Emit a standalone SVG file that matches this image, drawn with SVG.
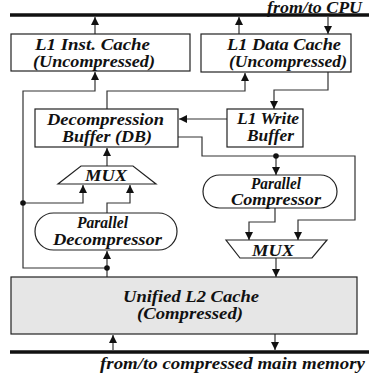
<svg xmlns="http://www.w3.org/2000/svg" width="369" height="381" viewBox="0 0 369 381">
  <style>
    .box { fill: #ffffff; stroke: #222; stroke-width: 1.2; }
    .l2 { fill: #e6e6e6; stroke: #222; stroke-width: 1.2; }
    .bus { stroke: #111; stroke-width: 3.5; fill: none; }
    .wire { stroke: #333; stroke-width: 1.2; fill: none; }
    .arr { marker-end: url(#head); }
    .dot { fill: #111; }
    text { font-family: "Liberation Serif", "Times New Roman", serif; font-style: italic; font-weight: bold; font-size: 16px; fill: #111; }
  </style>
  <defs>
    <marker id="head" markerUnits="userSpaceOnUse" markerWidth="9" markerHeight="9" refX="8" refY="4" orient="auto">
      <path d="M0,0 L8,4 L0,8 z" fill="#111"/>
    </marker>
  </defs>

  <!-- system buses -->
  <g id="cpu-bus">
    <line class="bus" x1="10" y1="15" x2="369" y2="15"/>
    <text x="267" y="12.5" textLength="95" lengthAdjust="spacingAndGlyphs">from/to CPU</text>
  </g>
  <g id="memory-bus">
    <line class="bus" x1="10" y1="352" x2="369" y2="352"/>
    <text x="100" y="369" textLength="265" lengthAdjust="spacingAndGlyphs">from/to compressed main memory</text>
  </g>

  <!-- connectors -->
  <g id="connectors">
    <path class="wire arr" d="M95,34 V17"/>
    <path class="wire arr" d="M239,34 V17"/>
    <path class="wire arr" d="M328,17 V34"/>
    <path class="wire arr" d="M107,268 H23 V91 H95 V72"/>
    <path class="wire" d="M107,277 V268"/>
    <path class="wire arr" d="M107,268 V251"/>
    <path class="wire arr" d="M23,203 H83 V185"/>
    <path class="wire arr" d="M107,213 V203 H130 V185"/>
    <path class="wire arr" d="M107,166 V148"/>
    <path class="wire arr" d="M107,109 V91 H245 V73"/>
    <path class="wire arr" d="M328,72 V90 H274 V109"/>
    <path class="wire arr" d="M227,119 H179"/>
    <path class="wire arr" d="M178,137 H202 V156 H355 V220 H298 V240"/>
    <path class="wire arr" d="M276,156 V175"/>
    <path class="wire arr" d="M275,208 V222 H249 V240"/>
    <path class="wire arr" d="M276,258 V277"/>
    <path class="wire arr" d="M113,350 V335"/>
    <path class="wire arr" d="M275,334 V350"/>
    <circle class="dot" cx="23" cy="203" r="2.8"/>
    <circle class="dot" cx="107" cy="268" r="2.8"/>
    <circle class="dot" cx="276" cy="156" r="2.8"/>
  </g>

  <g id="l1-inst-cache">
    <rect class="box" x="11" y="34" width="179" height="37"/>
    <text x="35" y="50" textLength="115" lengthAdjust="spacingAndGlyphs">L1 Inst. Cache</text>
    <text x="33" y="67" textLength="122" lengthAdjust="spacingAndGlyphs">(Uncompressed)</text>
  </g>

  <g id="l1-data-cache">
    <rect class="box" x="201" y="34" width="150" height="38"/>
    <text x="227" y="50" textLength="114" lengthAdjust="spacingAndGlyphs">L1 Data Cache</text>
    <text x="229" y="67" textLength="118" lengthAdjust="spacingAndGlyphs">(Uncompressed)</text>
  </g>

  <g id="decompression-buffer">
    <rect class="box" x="35" y="109" width="143" height="38"/>
    <text x="47" y="125" textLength="117" lengthAdjust="spacingAndGlyphs">Decompression</text>
    <text x="62" y="142" textLength="90" lengthAdjust="spacingAndGlyphs">Buffer (DB)</text>
  </g>

  <g id="l1-write-buffer">
    <rect class="box" x="227" y="109" width="76" height="38"/>
    <text x="237" y="124" textLength="62" lengthAdjust="spacingAndGlyphs">L1 Write</text>
    <text x="247" y="141" textLength="47" lengthAdjust="spacingAndGlyphs">Buffer</text>
  </g>

  <g id="mux-decompress-side">
    <polygon class="box" points="81,166 133,166 156,184 58,184"/>
    <text x="85" y="181" textLength="42" lengthAdjust="spacingAndGlyphs">MUX</text>
  </g>

  <g id="parallel-decompressor">
    <rect class="box" x="35" y="213" width="142" height="37" rx="18.5" ry="18.5"/>
    <text x="77" y="228" textLength="51" lengthAdjust="spacingAndGlyphs">Parallel</text>
    <text x="53" y="245" textLength="109" lengthAdjust="spacingAndGlyphs">Decompressor</text>
  </g>

  <g id="parallel-compressor">
    <rect class="box" x="203" y="175" width="134" height="33" rx="16.5" ry="16.5"/>
    <text x="251" y="189" textLength="50" lengthAdjust="spacingAndGlyphs">Parallel</text>
    <text x="231" y="205" textLength="90" lengthAdjust="spacingAndGlyphs">Compressor</text>
  </g>

  <g id="mux-compress-side">
    <polygon class="box" points="226,240 327,240 312,258 240,258"/>
    <text x="252" y="256" textLength="42" lengthAdjust="spacingAndGlyphs">MUX</text>
  </g>

  <g id="unified-l2-cache">
    <rect class="l2" x="11" y="277" width="346" height="57"/>
    <text x="123" y="302" textLength="136" lengthAdjust="spacingAndGlyphs">Unified L2 Cache</text>
    <text x="137" y="319" textLength="106" lengthAdjust="spacingAndGlyphs">(Compressed)</text>
  </g>
</svg>
